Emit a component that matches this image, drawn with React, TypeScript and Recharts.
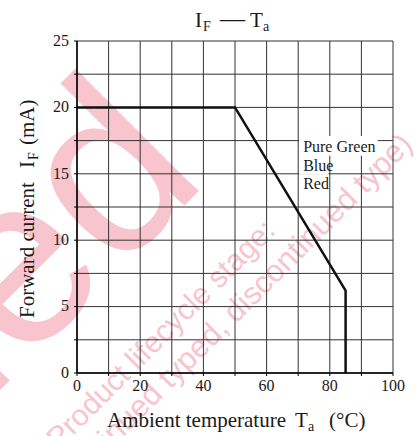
import React from 'react';
import {
  LineChart,
  Line,
  XAxis,
  YAxis,
  CartesianGrid,
  ReferenceArea,
  Customized,
} from 'recharts';

const temperature = [0, 50, 85, 85];
const forwardCurrent = [20, 20, 6.2, 0];
const xTicks = [0, 10, 20, 30, 40, 50, 60, 70, 80, 90, 100];
const yTicks = [0, 2.5, 5, 7.5, 10, 12.5, 15, 17.5, 20, 22.5, 25];
const colourLabels = ['Pure Green', 'Blue', 'Red'];

const data = temperature.map((t, idx) => ({ t, current: forwardCurrent[idx] }));

const serif = "'Liberation Serif', 'Times New Roman', serif";
const sans = "'Liberation Sans', Arial, sans-serif";
const pink = '#f8c4cd';
const ink = '#1a1a1a';

const Watermark = () => (
  <svg width={416} height={436} style={{ position: 'absolute', left: 0, top: 0 }}>
    <text
      x={210}
      y={180}
      textAnchor="end"
      fontFamily={sans}
      fontSize={240}
      fill={pink}
      transform="rotate(-45 210 180)"
    >
      Discontinued
    </text>
    <text
      x={277}
      y={232}
      textAnchor="end"
      fontFamily={sans}
      fontSize={30}
      fill={pink}
      transform="rotate(-45 277 232)"
    >
      Product lifecycle stage:
    </text>
    <text
      x={414}
      y={146}
      textAnchor="end"
      fontFamily={sans}
      fontSize={31}
      fill={pink}
      transform="rotate(-45 414 146)"
    >
      (Discontinued typed, discontinued type)
    </text>
  </svg>
);

const Texts = () => (
  <g fill={ink} fontFamily={serif}>
    <text y={27} fontSize={21}>
      <tspan x={195}>I</tspan>
      <tspan x={203} dy={4} fontSize={14}>F</tspan>
      <tspan x={220} dy={-4} fontSize={25}>—</tspan>
      <tspan x={250}>T</tspan>
      <tspan x={263} dy={4} fontSize={14}>a</tspan>
    </text>
    <text y={427} fontSize={21}>
      <tspan x={107}>Ambient temperature</tspan>
      <tspan x={295}>T</tspan>
      <tspan x={308} dy={4} fontSize={14}>a</tspan>
      <tspan x={329} dy={-4}>(°C)</tspan>
    </text>
    <text transform="translate(34 318) rotate(-90)" fontSize={21}>
      <tspan x={0}>Forward current</tspan>
      <tspan x={150}>I</tspan>
      <tspan x={158} dy={4} fontSize={14}>F</tspan>
      <tspan x={173} dy={-4}>(mA)</tspan>
    </text>
  </g>
);

const XTick = (props: any) => {
  const { x, y, payload } = props;
  const v = payload.value as number;
  if (v % 20 !== 0) return <g />;
  return (
    <text x={x} y={y} dy="0.71em" textAnchor="middle" fontSize={16} fill={ink} fontFamily={serif}>
      {v}
    </text>
  );
};

const YTick = (props: any) => {
  const { x, y, payload } = props;
  const v = payload.value as number;
  if (v % 5 !== 0) return <g />;
  return (
    <text x={x} y={y} dy="0.3em" textAnchor="end" fontSize={16} fill={ink} fontFamily={serif}>
      {v}
    </text>
  );
};

const BoxLabel = (props: any) => {
  const { viewBox, text } = props;
  if (!viewBox) return null;
  return (
    <text
      x={viewBox.x + 4}
      y={viewBox.y + viewBox.height / 2}
      dy="0.35em"
      fontSize={16}
      fill={ink}
      fontFamily={serif}
    >
      {text}
    </text>
  );
};

export default function App() {
  return (
    <div
      style={{
        position: 'absolute',
        left: 0,
        top: 0,
        width: 416,
        height: 436,
        background: '#fff',
      }}
    >
      <Watermark />
      <LineChart
        width={416}
        height={436}
        data={data}
        margin={{ top: 41, right: 23, left: 0, bottom: 0 }}
      >
        <CartesianGrid stroke="#333" strokeWidth={1} />
        <XAxis
          dataKey="t"
          type="number"
          domain={[0, 100]}
          ticks={xTicks}
          interval={0}
          height={63}
          tickSize={3}
          tickMargin={4}
          tick={<XTick />}
          axisLine={{ stroke: '#000', strokeWidth: 1.5 }}
          tickLine={{ stroke: '#000' }}
        />
        <YAxis
          type="number"
          domain={[0, 25]}
          ticks={yTicks}
          interval={0}
          width={77}
          tickSize={3}
          tickMargin={5}
          tick={<YTick />}
          axisLine={{ stroke: '#000', strokeWidth: 1.5 }}
          tickLine={{ stroke: '#000' }}
        />
        <ReferenceArea
          x1={70.3}
          x2={95.2}
          y1={16.35}
          y2={17.85}
          fill="#fff"
          fillOpacity={1}
          stroke="none"
          label={<BoxLabel text={colourLabels[0]} />}
        />
        <ReferenceArea
          x1={70.3}
          x2={79.6}
          y1={14.95}
          y2={16.35}
          fill="#fff"
          fillOpacity={1}
          stroke="none"
          label={<BoxLabel text={colourLabels[1]} />}
        />
        <ReferenceArea
          x1={70.3}
          x2={79.6}
          y1={13.6}
          y2={14.95}
          fill="#fff"
          fillOpacity={1}
          stroke="none"
          label={<BoxLabel text={colourLabels[2]} />}
        />
        <Line
          type="linear"
          dataKey="current"
          stroke="#111"
          strokeWidth={2.5}
          dot={false}
          activeDot={false}
          isAnimationActive={false}
        />
        <Customized component={Texts} />
      </LineChart>
    </div>
  );
}
